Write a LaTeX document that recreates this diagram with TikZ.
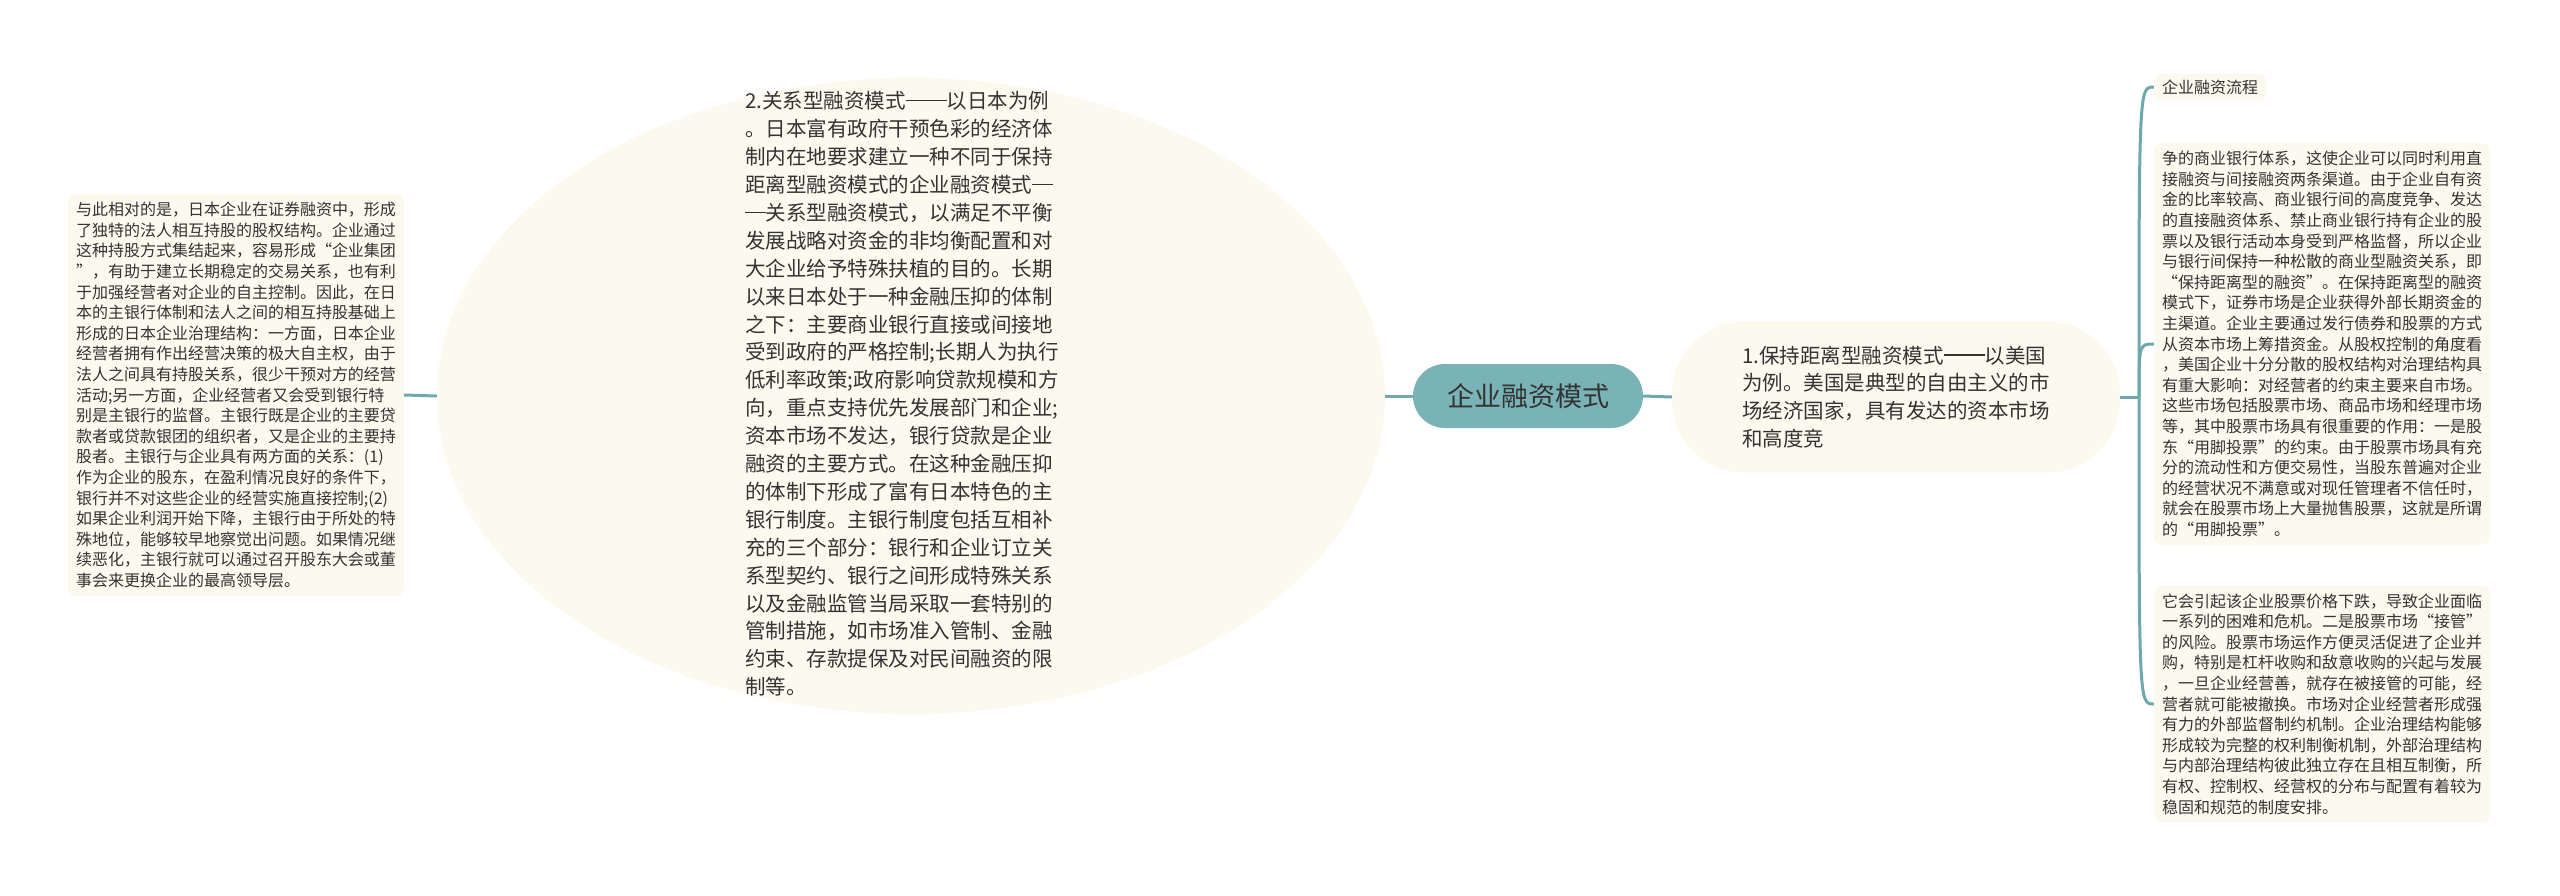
\documentclass[tikz,border=0pt]{standalone}
\usepackage{fontspec}
\newfontfamily\cjkfont{Noto Sans CJK SC}
\usetikzlibrary{shapes.geometric}
\definecolor{linkteal}{HTML}{6FA9AD}
\definecolor{rootteal}{HTML}{7AB3B6}
\definecolor{paper}{HTML}{FCF9EF}
\definecolor{ink}{HTML}{333333}
\newcommand{\zhdash}{\rule[0.36em]{1em}{0.06em}}
\begin{document}
\begin{tikzpicture}[x=1pt,y=-1pt,
  link/.style={draw=linkteal,line width=3pt},
  root/.style={fill=rootteal,rounded corners=32pt,minimum width=230pt,minimum height=64pt,inner sep=0pt,text=ink,font=\cjkfont\fontsize{27}{32}\selectfont},
  topic/.style={text=ink,align=left,inner sep=0pt,font=\cjkfont\fontsize{20.5}{27.9}\selectfont},
  note/.style={fill=paper,rounded corners=8pt,text=ink,align=left,inner xsep=8pt,inner ysep=8pt,font=\cjkfont\fontsize{16}{20.6}\selectfont}]
\fill [white] (0,0) rectangle (2560,895);
\useasboundingbox (0,0) rectangle (2560,895);
\node (root) [root] at (1528,396) {企业融资模式};
\node (japan) [ellipse,fill=paper,minimum width=948pt,minimum height=636pt,inner sep=0pt] at (911,396) {};
\node (japantext) [topic] at (902,394) {2.关系型融资模式\zhdash\zhdash 以日本为例\\
。日本富有政府干预色彩的经济体\\
制内在地要求建立一种不同于保持\\
距离型融资模式的企业融资模式\zhdash\\
\zhdash 关系型融资模式，以满足不平衡\\
发展战略对资金的非均衡配置和对\\
大企业给予特殊扶植的目的。长期\\
以来日本处于一种金融压抑的体制\\
之下：主要商业银行直接或间接地\\
受到政府的严格控制;长期人为执行\\
低利率政策;政府影响贷款规模和方\\
向，重点支持优先发展部门和企业;\\
资本市场不发达，银行贷款是企业\\
融资的主要方式。在这种金融压抑\\
的体制下形成了富有日本特色的主\\
银行制度。主银行制度包括互相补\\
充的三个部分：银行和企业订立关\\
系型契约、银行之间形成特殊关系\\
以及金融监管当局采取一套特别的\\
管制措施，如市场准入管制、金融\\
约束、存款提保及对民间融资的限\\
制等。};
\node (japannote) [note] at (236,395) {与此相对的是，日本企业在证券融资中，形成\\
了独特的法人相互持股的股权结构。企业通过\\
这种持股方式集结起来，容易形成“企业集团\\
”，有助于建立长期稳定的交易关系，也有利\\
于加强经营者对企业的自主控制。因此，在日\\
本的主银行体制和法人之间的相互持股基础上\\
形成的日本企业治理结构：一方面，日本企业\\
经营者拥有作出经营决策的极大自主权，由于\\
法人之间具有持股关系，很少干预对方的经营\\
活动;另一方面，企业经营者又会受到银行特\\
别是主银行的监督。主银行既是企业的主要贷\\
款者或贷款银团的组织者，又是企业的主要持\\
股者。主银行与企业具有两方面的关系：(1)\\
作为企业的股东，在盈利情况良好的条件下，\\
银行并不对这些企业的经营实施直接控制;(2)\\
如果企业利润开始下降，主银行由于所处的特\\
殊地位，能够较早地察觉出问题。如果情况继\\
续恶化，主银行就可以通过召开股东大会或董\\
事会来更换企业的最高领导层。};
\node (usa) [topic,fill=paper,rounded corners=72pt,minimum width=448pt,minimum height=151pt] at (1896,397) {1.保持距离型融资模式\zhdash\zhdash 以美国\\
为例。美国是典型的自由主义的市\\
场经济国家，具有发达的资本市场\\
和高度竞};
\node (flow) [note,inner ysep=6pt] at (2210,87) {企业融资流程};
\node (usanote) [note] at (2322,344) {争的商业银行体系，这使企业可以同时利用直\\
接融资与间接融资两条渠道。由于企业自有资\\
金的比率较高、商业银行间的高度竞争、发达\\
的直接融资体系、禁止商业银行持有企业的股\\
票以及银行活动本身受到严格监督，所以企业\\
与银行间保持一种松散的商业型融资关系，即\\
“保持距离型的融资”。在保持距离型的融资\\
模式下，证券市场是企业获得外部长期资金的\\
主渠道。企业主要通过发行债券和股票的方式\\
从资本市场上筹措资金。从股权控制的角度看\\
，美国企业十分分散的股权结构对治理结构具\\
有重大影响：对经营者的约束主要来自市场。\\
这些市场包括股票市场、商品市场和经理市场\\
等，其中股票市场具有很重要的作用：一是股\\
东“用脚投票”的约束。由于股票市场具有充\\
分的流动性和方便交易性，当股东普遍对企业\\
的经营状况不满意或对现任管理者不信任时，\\
就会在股票市场上大量抛售股票，这就是所谓\\
的“用脚投票”。};
\node (risknote) [note] at (2322,704) {它会引起该企业股票价格下跌，导致企业面临\\
一系列的困难和危机。二是股票市场“接管”\\
的风险。股票市场运作方便灵活促进了企业并\\
购，特别是杠杆收购和敌意收购的兴起与发展\\
，一旦企业经营善，就存在被接管的可能，经\\
营者就可能被撤换。市场对企业经营者形成强\\
有力的外部监督制约机制。企业治理结构能够\\
形成较为完整的权利制衡机制，外部治理结构\\
与内部治理结构彼此独立存在且相互制衡，所\\
有权、控制权、经营权的分布与配置有着较为\\
稳固和规范的制度安排。};
\coordinate (fork) at (2139,397);
\draw [link] (root.west) -- (japan.east);
\draw [link] (japan.west) -- (japannote.east);
\draw [link] (root.east) -- (usa.west);
\draw [link] (usa.east) -- (fork);
\draw [link] (fork) .. controls (fork |- flow.west) .. (flow.west);
\draw [link] (fork) .. controls (fork |- usanote.west) .. (usanote.west);
\draw [link] (fork) .. controls (fork |- risknote.west) .. (risknote.west);
\end{tikzpicture}
\end{document}
